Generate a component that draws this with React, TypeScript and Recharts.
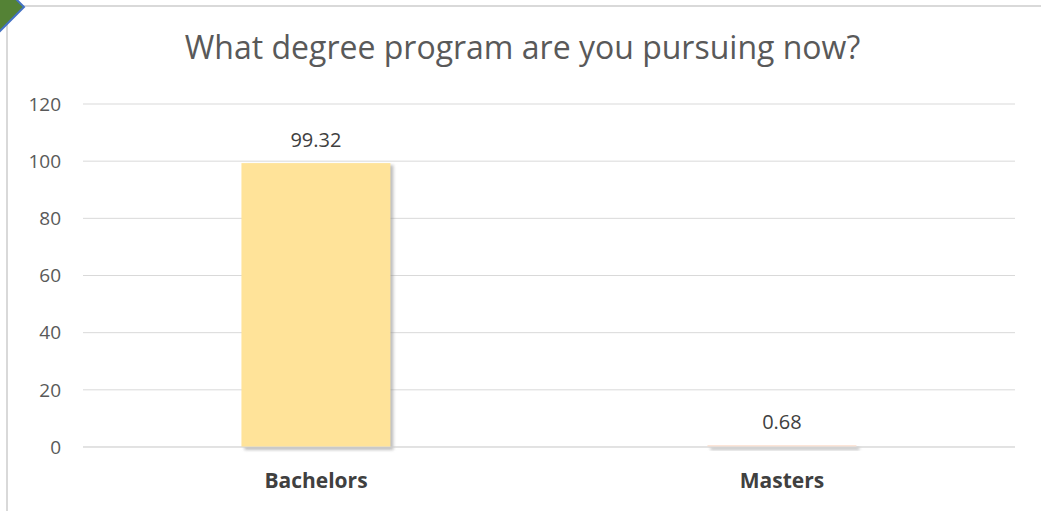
import { BarChart, Bar, Cell, XAxis, YAxis, CartesianGrid, LabelList } from "recharts"

const categories = ["Bachelors", "Masters"]
const percentages = [99.32, 0.68]
const yTicks = [0, 20, 40, 60, 80, 100, 120]
const barColors = ["#FFE399", "#FCE4D6"]

const data = categories.map((name, i) => ({ name, value: percentages[i] }))

const FONT = "'Open Sans', 'Liberation Sans', sans-serif"

function ShadowBar(props: any) {
    const { x, y, width, height, fill, index } = props
    if (!height || height <= 0) return null
    const fid = `bar-shadow-${index}`
    return (
        <g>
            <defs>
                <filter id={fid} x="-20%" y="-20%" width="140%" height="140%">
                    <feGaussianBlur stdDeviation="1.5" />
                </filter>
            </defs>
            <rect x={x + 3} y={y + 2} width={width} height={height + 1} fill="#8c8c8c" opacity={0.55} filter={`url(#${fid})`} />
            <rect x={x} y={y} width={width} height={height} fill={fill} />
        </g>
    )
}

export default function App() {
    return (
        <div style={{ position: "absolute", left: 0, top: 0, width: 1041, height: 511, background: "#fff", overflow: "hidden", fontFamily: FONT }}>
            {/* frame */}
            <div style={{ position: "absolute", left: 6, top: 5, right: -4, bottom: -4, borderTop: "2px solid #d9d9d9", borderLeft: "2px solid #d9d9d9" }} />
            {/* corner marker */}
            <svg style={{ position: "absolute", left: 0, top: 0 }} width={40} height={40}>
                <polygon points="0,-17 24,7 0,31 -24,7" fill="#548235" stroke="#4472C4" strokeWidth={2} />
            </svg>
            <div style={{ position: "absolute", left: 0, top: 25, width: 1041, textAlign: "center", fontSize: 32, color: "#595959", paddingLeft: 2, whiteSpace: "nowrap" }}>
                What degree program are you pursuing now?
            </div>
            <div style={{ position: "absolute", left: 0, top: 0 }}>
                <BarChart width={1041} height={511} data={data} barCategoryGap="34%" margin={{ top: 104, right: 26, left: 0, bottom: 34 }}>
                    <CartesianGrid horizontal vertical={false} stroke="#d9d9d9" strokeWidth={1} />
                    <XAxis
                        dataKey="name"
                        height={30}
                        axisLine={{ stroke: "#d9d9d9" }}
                        tickLine={false}
                        tickSize={0}
                        tickMargin={26}
                        tick={{ fill: "#404040", fontSize: 21, fontWeight: 700, fontFamily: FONT }}
                    />
                    <YAxis
                        width={83}
                        domain={[0, 120]}
                        ticks={yTicks}
                        axisLine={false}
                        tickLine={false}
                        tickSize={0}
                        tickMargin={22}
                        tick={{ fill: "#595959", fontSize: 19, fontFamily: FONT }}
                    />
                    <Bar dataKey="value" isAnimationActive={false} shape={<ShadowBar />}>
                        {data.map((_, i) => (
                            <Cell key={`cell-${i}`} fill={barColors[i]} />
                        ))}
                        <LabelList dataKey="value" position="top" offset={16} fill="#404040" fontSize={20} fontFamily={FONT} />
                    </Bar>
                </BarChart>
            </div>
        </div>
    )
}
